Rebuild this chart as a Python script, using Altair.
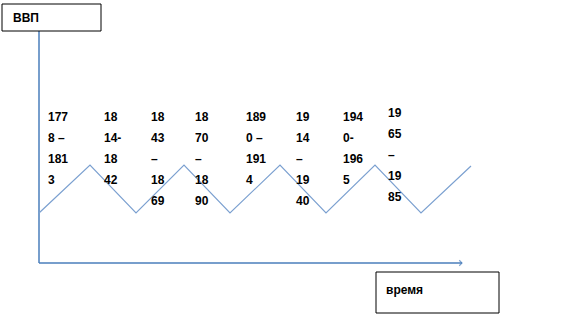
import altair as alt
import pandas as pd

# Cycle (zigzag) points: time position and GDP level
cycle_t = [39, 90, 136, 184, 230, 280, 326, 375, 421, 471]
cycle_gdp = [213, 165, 213, 165, 213, 165, 213, 165, 213, 166]

# Period labels, split as in the picture
period_cols = [48, 104, 151, 195, 246, 296, 343, 388]
period_lines = [
    ["177", "8 –", "181", "3"],
    ["18", "14-", "18", "42"],
    ["18", "43", "–", "18", "69"],
    ["18", "70", "–", "18", "90"],
    ["189", "0 –", "191", "4"],
    ["19", "14", "–", "19", "40"],
    ["194", "0-", "196", "5"],
    ["19", "65", "–", "19", "85"],
]
col_shift = [0, 0, 0, 0, 0, 0, 0, -4]
row_top = 117
row_step = 21

box_labels = ["ВВП", "время"]

W, H = 576, 336
xs = alt.Scale(domain=[0, W], nice=False, zero=False)
ys = alt.Scale(domain=[H, 0], nice=False, zero=False)

zig = pd.DataFrame({"t": cycle_t, "g": cycle_gdp, "o": range(len(cycle_t))})
rows = []
for cx, lines, sh in zip(period_cols, period_lines, col_shift):
    for i, s in enumerate(lines):
        rows.append({"x": cx, "y": row_top + row_step * i + sh, "s": s})
txt = pd.DataFrame(rows)

boxes = pd.DataFrame({
    "x": [2, 376], "x2": [101, 499], "y": [4, 272], "y2": [31, 313],
    "tx": [13, 386], "ty": [18, 290], "s": box_labels,
})
axes_df = pd.DataFrame({"x": [39, 39], "x2": [39, 462], "y": [31, 263], "y2": [263, 263]})

axis_col = "#4a7ebb"

rules = alt.Chart(axes_df).mark_rule(color=axis_col, strokeWidth=1.5).encode(
    x=alt.X("x:Q", scale=xs, axis=None), x2="x2:Q",
    y=alt.Y("y:Q", scale=ys, axis=None), y2="y2:Q",
)
arrow = alt.Chart(pd.DataFrame({"x": [462], "y": [263]})).mark_point(
    shape="M-1,-1L0,0L-1,1", filled=False, color=axis_col, size=30, strokeWidth=1.2
).encode(x=alt.X("x:Q", scale=xs, axis=None), y=alt.Y("y:Q", scale=ys, axis=None))

zigline = alt.Chart(zig).mark_line(color="#7ba0d0", strokeWidth=1.2).encode(
    x=alt.X("t:Q", scale=xs, axis=None), y=alt.Y("g:Q", scale=ys, axis=None), order="o:Q"
)

rects = alt.Chart(boxes).mark_rect(fill="white", stroke="black", strokeWidth=1).encode(
    x=alt.X("x:Q", scale=xs, axis=None), x2="x2:Q",
    y=alt.Y("y:Q", scale=ys, axis=None), y2="y2:Q",
)
boxtext = alt.Chart(boxes).mark_text(
    align="left", baseline="middle", font="Liberation Sans", fontWeight="bold", fontSize=12, color="black"
).encode(x=alt.X("tx:Q", scale=xs, axis=None), y=alt.Y("ty:Q", scale=ys, axis=None), text="s:N")

periods = alt.Chart(txt).mark_text(
    align="left", baseline="middle", font="Liberation Sans", fontWeight="bold", fontSize=12, color="black"
).encode(x=alt.X("x:Q", scale=xs, axis=None), y=alt.Y("y:Q", scale=ys, axis=None), text="s:N")

chart = alt.layer(rules, arrow, zigline, periods, rects, boxtext).properties(
    width=W, height=H, autosize=alt.AutoSizeParams(type="none"), padding=0,
    background="white",
).configure_view(stroke=None)

chart.save("out.html", embed_options={"renderer": "svg", "actions": False})
